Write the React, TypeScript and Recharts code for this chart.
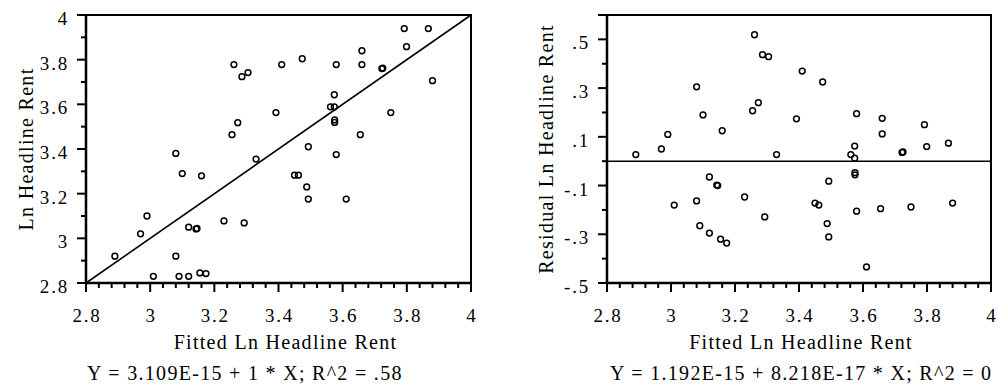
import { ScatterChart, Scatter, XAxis, YAxis, ReferenceArea, ReferenceLine } from 'recharts';

const fitted = [
  2.89, 3.01, 2.97, 2.99, 3.08, 3.10, 3.16, 3.08, 3.09, 3.12,
  3.12, 3.143, 3.146, 3.155, 3.174, 3.23, 3.293, 3.33, 3.255, 3.273,
  3.261, 3.286, 3.305, 3.392, 3.41, 3.474, 3.58, 3.66, 3.66, 3.722,
  3.725, 3.792, 3.867, 3.799, 3.88, 3.574, 3.562, 3.574, 3.575, 3.575,
  3.75, 3.655, 3.493, 3.58, 3.45, 3.462, 3.488, 3.493, 3.611,
];
const lnRent = [
  2.92, 2.83, 3.02, 3.10, 3.38, 3.29, 3.28, 2.92, 2.83, 2.83,
  3.05, 3.042, 3.044, 2.845, 2.842, 3.078, 3.069, 3.355, 3.464, 3.518,
  3.778, 3.724, 3.742, 3.563, 3.778, 3.804, 3.778, 3.84, 3.778, 3.76,
  3.762, 3.939, 3.939, 3.858, 3.706, 3.643, 3.589, 3.589, 3.53, 3.519,
  3.563, 3.464, 3.41, 3.375, 3.283, 3.283, 3.23, 3.176, 3.176,
];
const residual = [
  0.027, -0.18, 0.05, 0.11, 0.305, 0.19, 0.125, -0.163, -0.265, -0.295,
  -0.065, -0.098, -0.1, -0.32, -0.336, -0.147, -0.229, 0.027, 0.207, 0.24,
  0.519, 0.437, 0.429, 0.174, 0.37, 0.325, 0.195, 0.176, 0.112, 0.036,
  0.038, 0.15, 0.074, 0.06, -0.172, 0.062, 0.027, 0.012, -0.047, -0.056,
  -0.188, -0.195, -0.082, -0.205, -0.172, -0.18, -0.256, -0.311, -0.434,
];

const xMajor = [2.8, 3, 3.2, 3.4, 3.6, 3.8, 4];
const yMajorLeft = [2.8, 3, 3.2, 3.4, 3.6, 3.8, 4];
const yMajorRight = [-0.5, -0.3, -0.1, 0.1, 0.3, 0.5];
const fitLeft = [{ x: 2.8, y: 2.8 }, { x: 4, y: 4 }];
const fitRight = 0;

const leftData = fitted.map((x, i) => ({ x, y: lnRent[i] }));
const rightData = fitted.map((x, i) => ({ x, y: residual[i] }));

const round = (v: number) => Number(v.toFixed(3));
const subdivide = (majors: number[], n: number) => {
  const out: number[] = [];
  for (let i = 0; i < majors.length - 1; i++) {
    const step = (majors[i + 1] - majors[i]) / n;
    for (let k = 0; k < n; k++) out.push(round(majors[i] + k * step));
  }
  out.push(majors[majors.length - 1]);
  return out;
};

const xTicks = subdivide(xMajor, 5);
const yTicksLeft = subdivide(yMajorLeft, 2);
const yTicksRight = [...subdivide(yMajorRight, 2), 0.6];

const FONT = '"Liberation Serif", "Times New Roman", serif';
const isIn = (list: number[], v: number) => list.some((m) => Math.abs(m - v) < 1e-6);
const fmtLeft = (v: number) => String(v);
const fmtRight = (v: number) => String(v).replace('0.', '.');

const tickText = { fontFamily: FONT, fontSize: 19, letterSpacing: 1.8, fill: '#000' };
const bigText = { fontFamily: FONT, fontSize: 20, letterSpacing: 1.3, fill: '#000' };

const renderXTick = (p: any) => {
  const v = p.payload.value;
  const major = isIn(xMajor, v);
  return (
    <g>
      <line x1={p.x} x2={p.x} y1={p.y} y2={p.y + (major ? 9 : 5)} stroke="#000" strokeWidth={2} />
      {major && (
        <text x={p.x + 1} y={p.y + 39} textAnchor="middle" style={tickText}>
          {String(v)}
        </text>
      )}
    </g>
  );
};

const makeYTick = (majors: number[], fmt: (v: number) => string, longOnly: number[] = []) => (p: any) => {
  const v = p.payload.value;
  const major = isIn(majors, v);
  const len = major || isIn(longOnly, v) ? 9 : 5;
  return (
    <g>
      <line x1={p.x} x2={p.x - len} y1={p.y} y2={p.y} stroke="#000" strokeWidth={2} />
      {major && (
        <text x={p.x - 17} y={p.y + 10} textAnchor="end" style={tickText}>
          {fmt(v)}
        </text>
      )}
    </g>
  );
};

const yTitle = (text: string, baseX: number) => (p: any) => {
  const vb = p.viewBox;
  const cy = vb.y + vb.height / 2;
  return (
    <text x={baseX} y={cy} transform={`rotate(-90 ${baseX} ${cy})`} textAnchor="middle" style={bigText}>
      {text}
    </text>
  );
};

const xTitle = (equation: string, titleShift: number, eqShift: number) => (p: any) => {
  const vb = p.viewBox;
  return (
    <g>
      <text x={vb.x + vb.width / 2 + titleShift} y={vb.y + 66} textAnchor="middle" style={bigText}>
        Fitted Ln Headline Rent
      </text>
      <text x={vb.x + eqShift} y={vb.y + 97} textAnchor="start" style={bigText}>
        {equation}
      </text>
    </g>
  );
};

const Ring = (p: any) => (
  <circle cx={p.cx} cy={p.cy} r={2.9} fill="none" stroke="#000" strokeWidth={1.5} />
);

const axisLine = { stroke: '#000', strokeWidth: 2.5 };

export default function App() {
  return (
    <div style={{ position: 'absolute', left: 0, top: 0, width: 998, height: 385, background: '#fff', overflow: 'hidden' }}>
      <div style={{ position: 'absolute', left: 0, top: 0 }}>
        <ScatterChart width={480} height={385} margin={{ top: 15, right: 9, bottom: 0, left: 0 }}>
          <XAxis
            type="number" dataKey="x" domain={[2.8, 4]} ticks={xTicks} interval={0}
            tick={renderXTick} tickLine={false} tickSize={0} tickMargin={0}
            axisLine={axisLine} height={102}
            label={xTitle('Y = 3.109E-15 + 1 * X; R^2 = .58', 7, 1)}
          />
          <YAxis
            type="number" dataKey="y" domain={[2.8, 4]} ticks={yTicksLeft} interval={0}
            tick={makeYTick(yMajorLeft, fmtLeft)} tickLine={false} tickSize={0} tickMargin={0}
            axisLine={axisLine} width={86}
            label={yTitle('Ln Headline Rent', 33)}
          />
          <ReferenceArea x1={2.8} x2={4} y1={2.8} y2={4} fill="none" stroke="#000" strokeWidth={2} />
          <ReferenceLine segment={fitLeft} stroke="#000" strokeWidth={1.6} />
          <Scatter data={leftData} shape={Ring} isAnimationActive={false} />
        </ScatterChart>
      </div>
      <div style={{ position: 'absolute', left: 520, top: 0 }}>
        <ScatterChart width={478} height={385} margin={{ top: 15, right: 7, bottom: 0, left: 0 }}>
          <XAxis
            type="number" dataKey="x" domain={[2.8, 4]} ticks={xTicks} interval={0}
            tick={renderXTick} tickLine={false} tickSize={0} tickMargin={0}
            axisLine={axisLine} height={102}
            label={xTitle('Y = 1.192E-15 + 8.218E-17 * X; R^2 = 0', 2, 3)}
          />
          <YAxis
            type="number" dataKey="y" domain={[-0.5, 0.6]} ticks={yTicksRight} interval={0}
            tick={makeYTick(yMajorRight, fmtRight, [0.6])} tickLine={false} tickSize={0} tickMargin={0}
            axisLine={axisLine} width={87}
            label={yTitle('Residual Ln Headline Rent', 33)}
          />
          <ReferenceArea x1={2.8} x2={4} y1={-0.5} y2={0.6} fill="none" stroke="#000" strokeWidth={2} />
          <ReferenceLine y={fitRight} stroke="#000" strokeWidth={1.6} />
          <Scatter data={rightData} shape={Ring} isAnimationActive={false} />
        </ScatterChart>
      </div>
    </div>
  );
}
